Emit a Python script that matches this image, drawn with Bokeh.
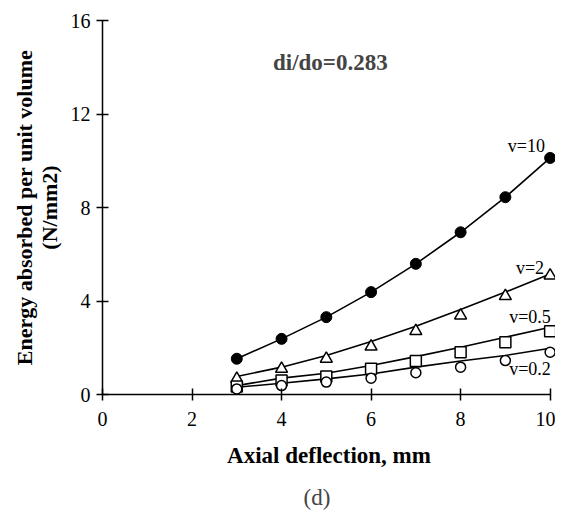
from bokeh.plotting import figure
from bokeh.models import Range1d, Label, FixedTicker, Title
from bokeh.embed import file_html
from bokeh.resources import INLINE

# ---- data ----
x_pts = [3, 4, 5, 6, 7, 8, 9, 10]

# measured points
v10_pts = [1.53, 2.38, 3.31, 4.38, 5.59, 6.94, 8.44, 10.12]
v2_pts = [0.67, 1.10, 1.53, 2.05, 2.71, 3.38, 4.21, 5.09]
v05_pts = [0.34, 0.60, 0.77, 1.10, 1.43, 1.81, 2.24, 2.71]
v02_pts = [0.24, 0.38, 0.53, 0.70, 0.93, 1.17, 1.45, 1.81]

# fitted curves (read at integer deflections)
v10_fit = [1.53, 2.38, 3.31, 4.38, 5.59, 6.94, 8.44, 10.12]
v2_fit = [0.77, 1.17, 1.67, 2.27, 2.92, 3.64, 4.38, 5.16]
v05_fit = [0.38, 0.70, 0.91, 1.24, 1.62, 2.02, 2.45, 2.88]
v02_fit = [0.31, 0.48, 0.67, 0.88, 1.17, 1.43, 1.67, 1.98]

x_ticks = [0, 2, 4, 6, 8, 10]
y_ticks = [0, 4, 8, 12, 16]

series_labels = ["v=10", "v=2", "v=0.5", "v=0.2"]
label_x = [9.47, 9.55, 9.55, 9.55]
label_y = [10.62, 5.43, 3.31, 1.07]

title_text = "di/do=0.283"
panel_text = "(d)"

SERIF = "Liberation Serif"

p = figure(width=555, height=523, output_backend="svg", toolbar_location=None,
           x_range=Range1d(0, 10.12), y_range=Range1d(0, 16),
           min_border_left=102, min_border_right=0, min_border_top=20,
           min_border_bottom=129)
p.outline_line_color = None
p.grid.grid_line_color = None
p.background_fill_color = "white"

for ax in (p.xaxis[0], p.yaxis[0]):
    ax.axis_line_color = "black"
    ax.axis_line_width = 1.5
    ax.major_tick_line_color = "black"
    ax.major_tick_line_width = 1.5
    ax.major_tick_in = 6
    ax.major_tick_out = 6
    ax.minor_tick_line_color = None
    ax.major_label_text_font = SERIF
    ax.major_label_text_font_size = "20px"
    ax.major_label_text_color = "black"
    ax.axis_label_text_font = SERIF
    ax.axis_label_text_font_style = "bold"
    ax.axis_label_text_color = "black"

p.xaxis[0].ticker = FixedTicker(ticks=x_ticks)
p.yaxis[0].ticker = FixedTicker(ticks=y_ticks)
p.xaxis[0].bounds = (0, 10)
p.yaxis[0].bounds = (0, 16)
p.xaxis[0].axis_label = "Axial deflection, mm"
p.xaxis[0].axis_label_text_font_size = "23px"
p.xaxis[0].major_label_standoff = 11
p.xaxis[0].axis_label_standoff = 14
p.yaxis[0].axis_label = "Energy absorbed per unit volume\n(N/mm2)"
p.yaxis[0].axis_label_text_font_size = "22px"
p.yaxis[0].axis_label_text_line_height = 1.0
p.yaxis[0].major_label_standoff = 6
p.yaxis[0].axis_label_standoff = 6

# curves
for fit in (v10_fit, v2_fit, v05_fit, v02_fit):
    p.line(x_pts, fit, line_color="black", line_width=1.6)

# markers
p.scatter(x_pts, v10_pts, marker="circle", size=11, fill_color="black", line_color="black")
p.scatter(x_pts, v2_pts, marker="triangle", size=12, fill_color="white", line_color="black", line_width=1.5)
p.scatter(x_pts, v05_pts, marker="square", size=11, fill_color="white", line_color="black", line_width=1.5)
p.scatter(x_pts, v02_pts, marker="circle", size=10, fill_color="white", line_color="black", line_width=1.5)

for t, lx, ly in zip(series_labels, label_x, label_y):
    p.add_layout(Label(x=lx, y=ly, text=t, text_font=SERIF, text_font_size="18px",
                       text_align="center", text_baseline="middle", text_color="black"))

p.add_layout(Label(x=5.09, y=14.2, text=title_text, text_font=SERIF, text_font_size="23px",
                   text_font_style="bold", text_align="center", text_baseline="middle"))

p.add_layout(Title(text=panel_text, align="left", offset=201, text_font=SERIF,
                   text_font_size="23px", text_font_style="normal", standoff=25), "below")

open("out.html", "w").write(file_html(p, INLINE))
